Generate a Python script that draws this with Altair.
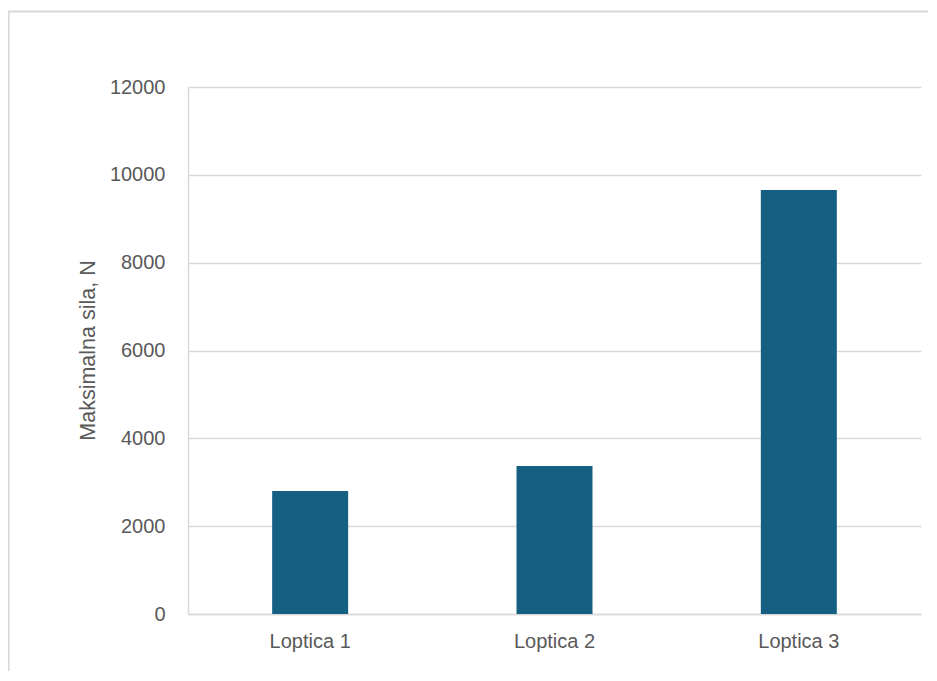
import altair as alt
import pandas as pd

categories = ["Loptica 1", "Loptica 2", "Loptica 3"]
values = [2800, 3370, 9655]

df = pd.DataFrame({"kat": categories, "sila": values})

FONT = "Liberation Sans"
TXT = "#595959"
GRID = "#D9D9D9"

W, H = 733, 527

bars = alt.Chart(df).mark_bar(size=76, color="#156082").encode(
    x=alt.X("kat:N", sort=categories,
            scale=alt.Scale(paddingInner=0, paddingOuter=0),
            axis=alt.Axis(title=None, labelAngle=0, ticks=False, labelPadding=17,
                          labelFont=FONT, labelFontSize=20, labelColor=TXT,
                          domainColor=GRID, domainWidth=1.5, grid=False)),
    y=alt.Y("sila:Q",
            scale=alt.Scale(domain=[0, 12000], nice=False),
            axis=alt.Axis(values=[0, 2000, 4000, 6000, 8000, 10000, 12000],
                          title="Maksimalna sila, N", ticks=False, labelPadding=23,
                          labelFont=FONT, labelFontSize=20, labelColor=TXT,
                          titleFont=FONT, titleFontSize=21.5, titleColor=TXT,
                          titleFontWeight="normal",
                          titleX=-100, titleY=263, titleAngle=-90,
                          titleAlign="center", titleBaseline="middle",
                          domainColor=GRID, domainWidth=1.5,
                          gridColor=GRID, gridWidth=1.5, format="d")),
)

border_top = alt.Chart(df).mark_rule(color=GRID, strokeWidth=1.5).encode(
    x=alt.value(-179.5), x2=alt.value(W + 7), y=alt.value(-75.5))
border_left = alt.Chart(df).mark_rule(color=GRID, strokeWidth=1.5).encode(
    x=alt.value(-179.5), y=alt.value(-75.5), y2=alt.value(H + 80))

chart = alt.layer(bars, border_top, border_left).properties(
    width=W, height=H,
    background="white",
    autosize=alt.AutoSizeParams(type="none"),
    padding={"left": 180, "top": 79, "right": 8, "bottom": 57},
).configure_view(strokeWidth=0, stroke=None)

chart.save("out.html", embed_options={"renderer": "svg", "actions": False})
